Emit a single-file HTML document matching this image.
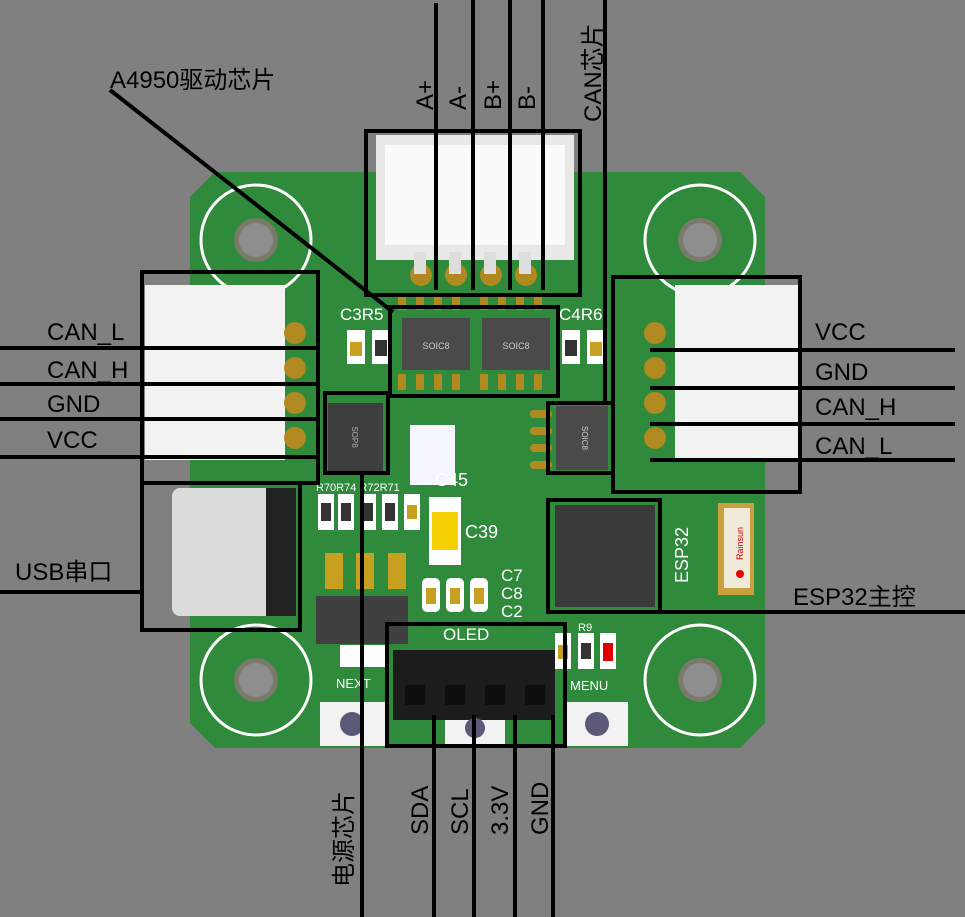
<!DOCTYPE html>
<html><head><meta charset="utf-8"><style>
html,body{margin:0;padding:0;background:#808080;}
svg{display:block}
text{font-family:"Liberation Sans","Noto Sans CJK SC",sans-serif;}
</style></head><body>
<svg width="965" height="917" viewBox="0 0 965 917" xmlns="http://www.w3.org/2000/svg">
<rect width="965" height="917" fill="#808080"/>
<!-- board -->
<polygon points="215,172 740,172 765,197 765,723 740,748 215,748 190,723 190,197" fill="#2f8a3c"/>
<!-- mounting holes -->
<g fill="none" stroke="#fff" stroke-width="3">
<circle cx="256" cy="240" r="55"/><circle cx="700" cy="240" r="55"/>
<circle cx="256" cy="680" r="55"/><circle cx="700" cy="680" r="55"/>
</g>
<g fill="#7a7a6a"><circle cx="256" cy="240" r="22"/><circle cx="700" cy="240" r="22"/><circle cx="256" cy="680" r="22"/><circle cx="700" cy="680" r="22"/></g>
<g fill="#8e8e8e"><circle cx="256" cy="240" r="17"/><circle cx="700" cy="240" r="17"/><circle cx="256" cy="680" r="17"/><circle cx="700" cy="680" r="17"/></g>
<!-- top connector -->
<rect x="376" y="135" width="198" height="125" fill="#e8e8e8"/>
<rect x="385" y="145" width="180" height="100" fill="#fafafa"/>
<g fill="#b08a20"><circle cx="421" cy="275" r="11"/><circle cx="456" cy="275" r="11"/><circle cx="491" cy="275" r="11"/><circle cx="526" cy="275" r="11"/></g>
<g fill="#ddd"><rect x="414" y="252" width="12" height="22"/><rect x="449" y="252" width="12" height="22"/><rect x="484" y="252" width="12" height="22"/><rect x="519" y="252" width="12" height="22"/></g>
<!-- left connector -->
<rect x="145" y="285" width="140" height="175" fill="#f2f2f2"/>
<g fill="#b08a20"><circle cx="295" cy="333" r="11"/><circle cx="295" cy="368" r="11"/><circle cx="295" cy="403" r="11"/><circle cx="295" cy="438" r="11"/></g>
<!-- right connector -->
<rect x="675" y="285" width="125" height="175" fill="#f2f2f2"/>
<g fill="#b08a20"><circle cx="655" cy="333" r="11"/><circle cx="655" cy="368" r="11"/><circle cx="655" cy="403" r="11"/><circle cx="655" cy="438" r="11"/></g>
<!-- USB -->
<rect x="172" y="488" width="118" height="128" rx="8" fill="#dcdcdc"/>
<rect x="266" y="488" width="30" height="128" fill="#222"/>
<!-- pads strip -->
<g fill="#b08a20">
<rect x="398" y="296" width="8" height="14"/><rect x="416" y="296" width="8" height="14"/><rect x="434" y="296" width="8" height="14"/><rect x="452" y="296" width="8" height="14"/>
<rect x="480" y="296" width="8" height="14"/><rect x="498" y="296" width="8" height="14"/><rect x="516" y="296" width="8" height="14"/><rect x="534" y="296" width="8" height="14"/>
<rect x="398" y="374" width="8" height="16"/><rect x="416" y="374" width="8" height="16"/><rect x="434" y="374" width="8" height="16"/><rect x="452" y="374" width="8" height="16"/>
<rect x="480" y="374" width="8" height="16"/><rect x="498" y="374" width="8" height="16"/><rect x="516" y="374" width="8" height="16"/><rect x="534" y="374" width="8" height="16"/>
</g>
<!-- SOIC8 chips -->
<rect x="402" y="318" width="68" height="52" fill="#4a4a4a"/>
<rect x="482" y="318" width="68" height="52" fill="#4a4a4a"/>
<text x="436" y="349" font-size="9" fill="#ccc" text-anchor="middle">SOIC8</text>
<text x="516" y="349" font-size="9" fill="#ccc" text-anchor="middle">SOIC8</text>
<!-- C3R5 caps -->
<rect x="347" y="330" width="18" height="34" fill="#fff"/><rect x="350" y="342" width="12" height="14" fill="#c8a020"/>
<rect x="372" y="330" width="18" height="34" fill="#fff"/><rect x="375" y="340" width="12" height="16" fill="#333"/>
<rect x="562" y="330" width="18" height="34" fill="#fff"/><rect x="565" y="340" width="12" height="16" fill="#333"/>
<rect x="587" y="330" width="18" height="34" fill="#fff"/><rect x="590" y="342" width="12" height="14" fill="#c8a020"/>
<g fill="#fff" font-size="17"><text x="340" y="320">C3R5</text><text x="559" y="320">C4R6</text></g>
<!-- SOP8 -->
<rect x="328" y="403" width="55" height="68" fill="#3e3e3e"/>
<text transform="translate(352,437) rotate(90)" font-size="8" fill="#aaa" text-anchor="middle">SOP8</text>
<!-- right SOIC -->
<rect x="556" y="406" width="52" height="64" fill="#4a4a4a"/>
<g fill="#b08a20"><rect x="530" y="410" width="22" height="8" rx="4"/><rect x="530" y="427" width="22" height="8" rx="4"/><rect x="530" y="444" width="22" height="8" rx="4"/><rect x="530" y="461" width="22" height="8" rx="4"/></g>
<text transform="translate(582,438) rotate(90)" font-size="8" fill="#ccc" text-anchor="middle">SOIC8</text>
<!-- white block C45 -->
<rect x="410" y="425" width="45" height="60" fill="#f5f5ff"/>
<text x="435" y="486" font-size="18" fill="#fff">C45</text>
<!-- resistors row -->
<g fill="#fff"><rect x="318" y="494" width="16" height="36"/><rect x="338" y="494" width="16" height="36"/><rect x="360" y="494" width="16" height="36"/><rect x="382" y="494" width="16" height="36"/><rect x="404" y="494" width="16" height="36"/></g>
<g fill="#333"><rect x="321" y="503" width="10" height="18"/><rect x="341" y="503" width="10" height="18"/><rect x="363" y="503" width="10" height="18"/><rect x="385" y="503" width="10" height="18"/></g>
<rect x="407" y="505" width="10" height="14" fill="#c8a020"/>
<text x="316" y="491" font-size="11" fill="#fff">R70R74 R72R71</text>
<!-- C39 -->
<rect x="429" y="497" width="32" height="68" fill="#fff"/>
<rect x="432" y="512" width="26" height="38" fill="#f5d000"/>
<text x="465" y="538" font-size="18" fill="#fff">C39</text>
<!-- C7 C8 C2 -->
<g fill="#fff"><rect x="422" y="578" width="18" height="34" rx="5"/><rect x="446" y="578" width="18" height="34" rx="5"/><rect x="470" y="578" width="18" height="34" rx="5"/></g>
<g fill="#c8a020"><rect x="426" y="588" width="10" height="16"/><rect x="450" y="588" width="10" height="16"/><rect x="474" y="588" width="10" height="16"/></g>
<g fill="#fff" font-size="17"><text x="501" y="581">C7</text><text x="501" y="599">C8</text><text x="501" y="617">C2</text></g>
<!-- SOT223 -->
<g fill="#c8a020"><rect x="325" y="553" width="18" height="36"/><rect x="356" y="553" width="18" height="36"/><rect x="388" y="553" width="18" height="36"/></g>
<rect x="316" y="596" width="92" height="48" fill="#404040"/>
<rect x="340" y="645" width="45" height="22" fill="#fff"/>
<!-- ESP32 -->
<rect x="555" y="505" width="100" height="102" fill="#3a3a3a"/>
<text transform="translate(688,583) rotate(-90)" font-size="18" fill="#fff">ESP32</text>
<rect x="718" y="503" width="36" height="92" fill="#c8a040"/>
<rect x="724" y="508" width="26" height="80" fill="#f2ead8"/>
<circle cx="740" cy="574" r="4" fill="#e00"/>
<text transform="translate(743,560) rotate(-90)" font-size="9" fill="#c00">Rainsun</text>
<!-- R9 LED -->
<rect x="555" y="633" width="16" height="36" fill="#fff"/><rect x="558" y="645" width="10" height="14" fill="#c8a020"/>
<rect x="578" y="633" width="16" height="36" fill="#fff"/><rect x="581" y="643" width="10" height="16" fill="#333"/>
<rect x="600" y="633" width="16" height="36" fill="#fff"/><rect x="603" y="643" width="10" height="18" fill="#e00000"/>
<text x="578" y="631" font-size="11" fill="#fff">R9</text>
<!-- OLED header -->
<text x="443" y="640" font-size="17" fill="#fff">OLED</text>
<rect x="393" y="650" width="162" height="70" fill="#1c1c1c"/>
<g fill="#0e0e0e"><rect x="405" y="685" width="20" height="20"/><rect x="445" y="685" width="20" height="20"/><rect x="485" y="685" width="20" height="20"/><rect x="525" y="685" width="20" height="20"/></g>
<!-- buttons -->
<text x="336" y="688" font-size="13" fill="#fff">NEXT</text>
<text x="570" y="690" font-size="13" fill="#fff">MENU</text>
<rect x="320" y="702" width="65" height="44" fill="#f2f2f2"/><circle cx="352" cy="724" r="12" fill="#5a5a78"/>
<rect x="565" y="702" width="63" height="44" fill="#f2f2f2"/><circle cx="597" cy="724" r="12" fill="#5a5a78"/>
<rect x="445" y="720" width="60" height="26" fill="#f2f2f2"/><circle cx="475" cy="728" r="10" fill="#5a5a78"/>

<!-- annotation lines -->
<g stroke="#000" stroke-width="4" fill="none">
<rect x="366" y="131" width="214" height="164"/>
<rect x="390" y="307" width="168" height="89"/>
<rect x="142" y="272" width="176" height="211"/>
<rect x="325" y="393" width="63" height="80"/>
<rect x="548" y="403" width="65" height="70"/>
<rect x="613" y="277" width="187" height="215"/>
<rect x="548" y="500" width="112" height="112"/>
<rect x="142" y="483" width="158" height="147"/>
<rect x="387" y="624" width="178" height="122"/>
<line x1="436" y1="3" x2="436" y2="290"/>
<line x1="473" y1="0" x2="473" y2="290"/>
<line x1="510" y1="0" x2="510" y2="290"/>
<line x1="543" y1="0" x2="543" y2="290"/>
<line x1="605" y1="0" x2="605" y2="403"/>
<line x1="110" y1="90" x2="393" y2="312"/>
<line x1="0" y1="348" x2="318" y2="348"/>
<line x1="0" y1="384" x2="318" y2="384"/>
<line x1="0" y1="419" x2="318" y2="419"/>
<line x1="0" y1="457" x2="318" y2="457"/>
<line x1="650" y1="350" x2="955" y2="350"/>
<line x1="650" y1="388" x2="955" y2="388"/>
<line x1="650" y1="424" x2="955" y2="424"/>
<line x1="650" y1="460" x2="955" y2="460"/>
<line x1="660" y1="612" x2="965" y2="612"/>
<line x1="0" y1="592" x2="142" y2="592"/>
<line x1="362" y1="473" x2="362" y2="917"/>
<line x1="434" y1="715" x2="434" y2="917"/>
<line x1="474" y1="715" x2="474" y2="917"/>
<line x1="515" y1="715" x2="515" y2="917"/>
<line x1="553" y1="715" x2="553" y2="917"/>
</g>
<!-- labels -->
<g fill="#000" font-size="24">
<text x="110" y="88">A4950驱动芯片</text>
<text x="47" y="340">CAN_L</text>
<text x="47" y="378">CAN_H</text>
<text x="47" y="412">GND</text>
<text x="47" y="448">VCC</text>
<text x="815" y="340">VCC</text>
<text x="815" y="380">GND</text>
<text x="815" y="415">CAN_H</text>
<text x="815" y="454">CAN_L</text>
<text x="793" y="605">ESP32主控</text>
<text x="15" y="580">USB串口</text>
<text transform="translate(433,110) rotate(-90)">A+</text>
<text transform="translate(466,110) rotate(-90)">A-</text>
<text transform="translate(501,110) rotate(-90)">B+</text>
<text transform="translate(535,110) rotate(-90)">B-</text>
<text transform="translate(601,122) rotate(-90)">CAN芯片</text>
<text transform="translate(428,835) rotate(-90)">SDA</text>
<text transform="translate(468,835) rotate(-90)">SCL</text>
<text transform="translate(508,835) rotate(-90)">3.3V</text>
<text transform="translate(548,835) rotate(-90)">GND</text>
<text transform="translate(352,887) rotate(-90)">电源芯片</text>
</g>
</svg>
</body></html>
